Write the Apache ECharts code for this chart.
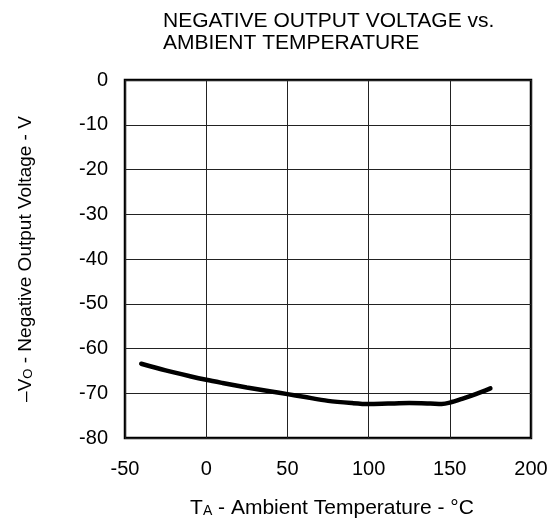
<!DOCTYPE html>
<html>
<head>
<meta charset="utf-8">
<script src="https://cdn.jsdelivr.net/npm/echarts@6/dist/echarts.min.js"></script>
<style>html,body{margin:0;padding:0;background:#fff;}#c{width:558px;height:527px;}</style>
</head>
<body>
<div id="c"></div>
<script>
const temperatures = [-40, -25, -10, 0, 10, 25, 40, 50, 60, 75, 90, 100, 112, 125, 138, 145, 150, 158, 166, 175];
const voltages = [-63.4, -64.9, -66.2, -67.0, -67.7, -68.7, -69.6, -70.2, -70.8, -71.7, -72.2, -72.4, -72.3, -72.2, -72.3, -72.4, -72.1, -71.2, -70.2, -68.9];
const xTicks = [-50, 0, 50, 100, 150, 200];
const yTicks = [0, -10, -20, -30, -40, -50, -60, -70, -80];
const titleText = 'NEGATIVE OUTPUT VOLTAGE vs.\nAMBIENT TEMPERATURE';
const xName = 'T{sub|A} - Ambient Temperature - °C';
const yName = '–V{sub|O} - Negative Output Voltage - V';

const font = 'Liberation Sans, Arial, sans-serif';
const chart = echarts.init(document.getElementById('c'), null, {renderer: 'canvas'});
chart.setOption({
  animation: false,
  backgroundColor: '#fff',
  title: {
    text: titleText,
    left: 158, top: 5,
    textStyle: {fontFamily: font, fontSize: 21, fontWeight: 'normal', color: '#000', lineHeight: 22}
  },
  grid: {left: 125, right: 27, top: 80, bottom: 89, show: true, borderColor: '#000', borderWidth: 2.5, backgroundColor: 'transparent'},
  xAxis: {
    type: 'value', min: xTicks[0], max: xTicks[xTicks.length - 1], interval: 50,
    name: xName, nameLocation: 'middle', nameGap: 81,
    nameTextStyle: {fontFamily: font, fontSize: 21, color: '#000', verticalAlign: 'bottom', lineHeight: 21, padding: [0, 0, 0, 8],
      rich: {sub: {fontSize: 14, fontFamily: font, color: '#000', verticalAlign: 'bottom', lineHeight: 21, padding: [0, 0, 1, 0]}}},
    axisLine: {show: false}, axisTick: {show: false},
    axisLabel: {fontFamily: font, fontSize: 20, color: '#000', margin: 21},
    splitLine: {show: true, lineStyle: {color: '#222', width: 1}}
  },
  yAxis: {
    type: 'value', min: -80, max: 0, interval: 10,
    name: yName, nameLocation: 'middle', nameGap: 89, nameRotate: 90,
    nameTextStyle: {fontFamily: font, fontSize: 19, color: '#000', verticalAlign: 'bottom', lineHeight: 20,
      rich: {sub: {fontSize: 13, fontFamily: font, color: '#000', verticalAlign: 'bottom', lineHeight: 20, padding: [0, 0, 1, 0]}}},
    axisLine: {show: false}, axisTick: {show: false},
    axisLabel: {fontFamily: font, fontSize: 20, color: '#000', margin: 17},
    splitLine: {show: true, lineStyle: {color: '#222', width: 1}}
  },
  series: [{
    type: 'line',
    data: temperatures.map((t, i) => [t, voltages[i]]),
    smooth: 0.3,
    showSymbol: false,
    lineStyle: {color: '#000', width: 4.5, cap: 'round'}
  }]
});
</script>
</body>
</html>
